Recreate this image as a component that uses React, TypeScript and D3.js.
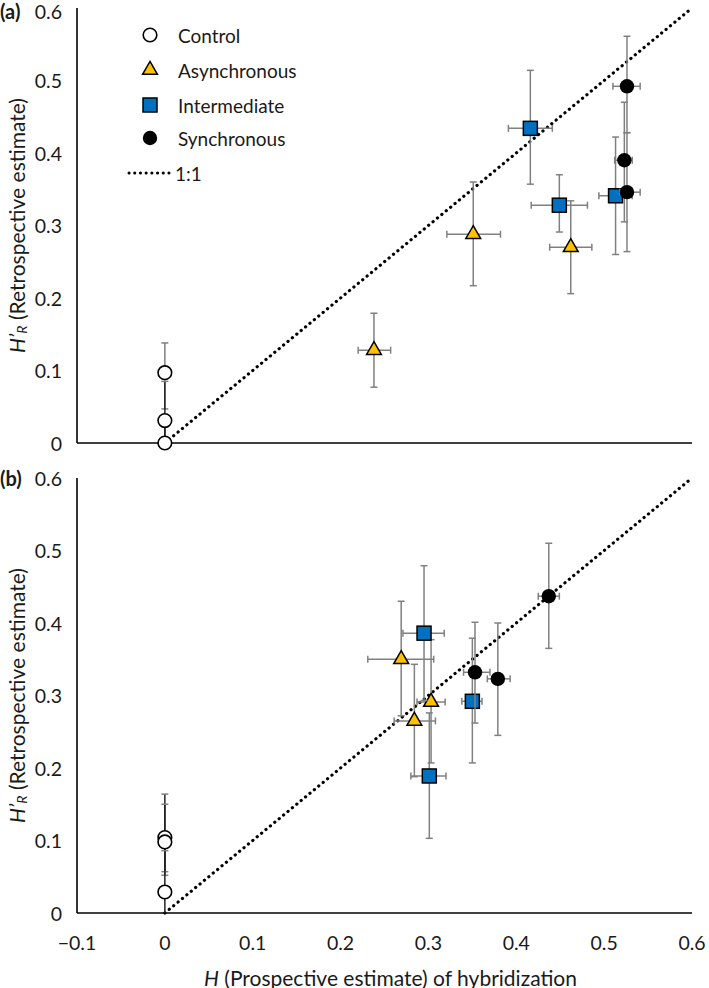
import React from "react";
import * as d3 from "d3";

// ---------- data ----------
const xTicks = [-0.1, 0, 0.1, 0.2, 0.3, 0.4, 0.5, 0.6];
const yTicks = [0, 0.1, 0.2, 0.3, 0.4, 0.5, 0.6];
const seriesNames = ["Control", "Asynchronous", "Intermediate", "Synchronous"];

// Panel (a)
const ctrlA_x = [0, 0, 0];
const ctrlA_y = [0.097, 0.031, 0.0];
const ctrlA_yLo = [0.047, 0.0, 0.0];
const ctrlA_yHi = [0.138, 0.085, 0.03];

const asyA_x = [0.238, 0.351, 0.462];
const asyA_y = [0.128, 0.288, 0.27];
const asyA_xLo = [0.22, 0.321, 0.438];
const asyA_xHi = [0.257, 0.382, 0.486];
const asyA_yLo = [0.077, 0.217, 0.206];
const asyA_yHi = [0.179, 0.36, 0.334];

const intA_x = [0.416, 0.449, 0.513];
const intA_y = [0.434, 0.328, 0.341];
const intA_xLo = [0.391, 0.417, 0.494];
const intA_xHi = [0.441, 0.481, 0.532];
const intA_yLo = [0.357, 0.291, 0.26];
const intA_yHi = [0.514, 0.37, 0.422];

const synA_x = [0.526, 0.523, 0.526];
const synA_y = [0.492, 0.39, 0.346];
const synA_xLo = [0.51, 0.512, 0.518];
const synA_xHi = [0.541, 0.532, 0.541];
const synA_yLo = [0.428, 0.305, 0.264];
const synA_yHi = [0.561, 0.47, 0.428];

// Panel (b)
const ctrlB_x = [0, 0, 0];
const ctrlB_y = [0.104, 0.098, 0.029];
const ctrlB_yLo = [0.052, 0.057, 0.0];
const ctrlB_yHi = [0.164, 0.15, 0.086];

const asyB_x = [0.269, 0.284, 0.303];
const asyB_y = [0.35, 0.265, 0.291];
const asyB_xLo = [0.231, 0.261, 0.287];
const asyB_xHi = [0.306, 0.308, 0.319];
const asyB_yLo = [0.272, 0.188, 0.207];
const asyB_yHi = [0.43, 0.343, 0.377];

const intB_x = [0.295, 0.301, 0.35];
const intB_y = [0.386, 0.189, 0.292];
const intB_xLo = [0.271, 0.28, 0.338];
const intB_xHi = [0.318, 0.32, 0.361];
const intB_yLo = [0.293, 0.103, 0.207];
const intB_yHi = [0.479, 0.276, 0.379];

const synB_x = [0.353, 0.379, 0.437];
const synB_y = [0.332, 0.323, 0.437];
const synB_xLo = [0.34, 0.367, 0.425];
const synB_xHi = [0.37, 0.393, 0.449];
const synB_yLo = [0.262, 0.245, 0.365];
const synB_yHi = [0.401, 0.4, 0.51];

// ---------- styling ----------
const FONT = "Lato, 'Open Sans', sans-serif";
const GOLD = "#FFC000";
const BLUE = "#0070C0";
const ERR = "#808080";

type Pt = { x: number; y: number; xLo?: number; xHi?: number; yLo: number; yHi: number };

function pts(x: number[], y: number[], yLo: number[], yHi: number[], xLo?: number[], xHi?: number[]): Pt[] {
  return x.map((v, i) => ({ x: v, y: y[i], yLo: yLo[i], yHi: yHi[i], xLo: xLo ? xLo[i] : undefined, xHi: xHi ? xHi[i] : undefined }));
}

function Marker({ kind, cx, cy }: { kind: number; cx: number; cy: number }) {
  if (kind === 0) return <circle cx={cx} cy={cy} r={6.8} fill="#fff" stroke="#000" strokeWidth={1.6} />;
  if (kind === 1) {
    const p = d3.symbol().type(d3.symbolTriangle).size(95)();
    return <path d={p as string} transform={`translate(${cx},${cy})`} fill={GOLD} stroke="#000" strokeWidth={1.5} />;
  }
  if (kind === 2) return <rect x={cx - 7} y={cy - 7} width={14} height={14} fill={BLUE} stroke="#000" strokeWidth={1.5} />;
  return <circle cx={cx} cy={cy} r={7.2} fill="#000" />;
}

function Panel({ top, bottom, label, series, showX }: { top: number; bottom: number; label: string; series: Pt[][]; showX: boolean }) {
  const x = d3.scaleLinear().domain([-0.1, 0.6]).range([77, 692]);
  const y = d3.scaleLinear().domain([0, 0.6]).range([bottom, top]);
  const cap = 3.5;
  return (
    <g>
      {/* axes */}
      <line x1={x(-0.1)} x2={x(-0.1)} y1={y(0.6)} y2={y(0)} stroke="#000" strokeWidth={1.6} />
      <line x1={x(-0.1)} x2={x(0.6)} y1={y(0)} y2={y(0)} stroke="#000" strokeWidth={1.6} />
      {yTicks.map((t) => (
        <text key={t} x={62} y={Math.max(y(t), 11)} textAnchor="end" dominantBaseline="central" fontFamily={FONT} fontSize={19.5} fill="#1a1a1a">
          {t === 0 ? "0" : d3.format(".1f")(t)}
        </text>
      ))}
      {showX &&
        xTicks.map((t) => (
          <text key={t} x={x(t)} y={942} textAnchor="middle" dominantBaseline="central" fontFamily={FONT} fontSize={19.5} fill="#1a1a1a">
            {t === 0 ? "0" : d3.format(".1f")(t).replace("-", "\u2212")}
          </text>
        ))}
      <text x={0} y={Math.max(top, 11)} dominantBaseline="central" fontFamily={FONT} fontSize={20} fontWeight="bold" fill="#1a1a1a">
        {label}
      </text>
      {/* y title */}
      <text
        transform={`translate(16,${(top + bottom) / 2}) rotate(-90)`}
        textAnchor="middle"
        dominantBaseline="central"
        fontFamily={FONT}
        fontSize={21}
        fill="#1a1a1a"
      >
        <tspan fontStyle="italic">H’</tspan>
        <tspan fontStyle="italic" fontSize={14} dy={5}>R</tspan>
        <tspan dy={-5}> (Retrospective estimate)</tspan>
      </text>
      {/* 1:1 line */}
      <line x1={x(0)} y1={y(0)} x2={x(0.6)} y2={y(0.6)} stroke="#000" strokeWidth={3.2} strokeLinecap="round" strokeDasharray="0.1 5.6" />
      {series.map((s, k) => (
        <g key={k}>
          {s.map((p, i) => {
            const isCtrl = k === 0;
            const col = isCtrl ? (i === 0 && label === "(a)" ? ERR : "#222") : ERR;
            return (
              <g key={i} stroke={col} strokeWidth={1.5} fill="none">
                <line x1={x(p.x)} x2={x(p.x)} y1={y(Math.max(0, p.yLo))} y2={y(p.yHi)} />
                <line x1={x(p.x) - cap} x2={x(p.x) + cap} y1={y(p.yHi)} y2={y(p.yHi)} stroke={ERR} />
                {p.yLo > 0 && <line x1={x(p.x) - cap} x2={x(p.x) + cap} y1={y(p.yLo)} y2={y(p.yLo)} stroke={ERR} />}
                {p.xLo !== undefined && p.xHi !== undefined && (
                  <g>
                    <line x1={x(p.xLo)} x2={x(p.xHi)} y1={y(p.y)} y2={y(p.y)} />
                    <line x1={x(p.xLo)} x2={x(p.xLo)} y1={y(p.y) - cap} y2={y(p.y) + cap} />
                    <line x1={x(p.xHi)} x2={x(p.xHi)} y1={y(p.y) - cap} y2={y(p.y) + cap} />
                  </g>
                )}
              </g>
            );
          })}
          {s.map((p, i) => (
            <Marker key={"m" + i} kind={k} cx={x(p.x)} cy={y(p.y)} />
          ))}
        </g>
      ))}
    </g>
  );
}

export default function App() {
  const seriesA = [
    pts(ctrlA_x, ctrlA_y, ctrlA_yLo, ctrlA_yHi),
    pts(asyA_x, asyA_y, asyA_yLo, asyA_yHi, asyA_xLo, asyA_xHi),
    pts(intA_x, intA_y, intA_yLo, intA_yHi, intA_xLo, intA_xHi),
    pts(synA_x, synA_y, synA_yLo, synA_yHi, synA_xLo, synA_xHi),
  ];
  const seriesB = [
    pts(ctrlB_x, ctrlB_y, ctrlB_yLo, ctrlB_yHi),
    pts(asyB_x, asyB_y, asyB_yLo, asyB_yHi, asyB_xLo, asyB_xHi),
    pts(intB_x, intB_y, intB_yLo, intB_yHi, intB_xLo, intB_xHi),
    pts(synB_x, synB_y, synB_yLo, synB_yHi, synB_xLo, synB_xHi),
  ];
  const legendY = [35, 70, 105, 138];
  return (
    <svg width={709} height={988} style={{ position: "absolute", left: 0, top: 0, background: "#fff" }}>
      <rect width={709} height={988} fill="#fff" />
      <Panel top={8} bottom={443} label="(a)" series={seriesA} showX={false} />
      <Panel top={478} bottom={913} label="(b)" series={seriesB} showX={true} />
      {/* legend */}
      <g>
        {seriesNames.map((n, i) => (
          <g key={n}>
            <Marker kind={i} cx={150} cy={legendY[i]} />
            <text x={178} y={legendY[i]} dominantBaseline="central" fontFamily={FONT} fontSize={19} fill="#1a1a1a">
              {n}
            </text>
          </g>
        ))}
        <line x1={129} x2={169} y1={173} y2={173} stroke="#000" strokeWidth={3} strokeLinecap="round" strokeDasharray="0.1 5.6" />
        <text x={175} y={173} dominantBaseline="central" fontFamily={FONT} fontSize={19} fill="#1a1a1a">
          1:1
        </text>
      </g>
      {/* x title */}
      <text x={(173 + 608) / 2} y={977} textAnchor="middle" dominantBaseline="central" fontFamily={FONT} fontSize={21} fill="#1a1a1a">
        <tspan fontStyle="italic">H</tspan>
        <tspan> (Prospective estimate) of hybridization</tspan>
      </text>
    </svg>
  );
}
